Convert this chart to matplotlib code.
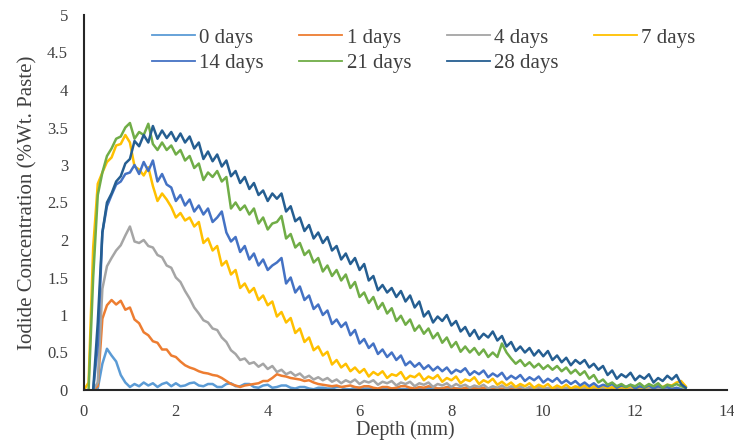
import numpy as np
import matplotlib
matplotlib.use("Agg")
import matplotlib.pyplot as plt

nan = np.nan

depth = [0.0, 0.1, 0.2, 0.3, 0.4, 0.5, 0.6, 0.7, 0.8, 0.9,
         1.0, 1.1, 1.2, 1.3, 1.4, 1.5, 1.6, 1.7, 1.8, 1.9,
         2.0, 2.1, 2.2, 2.3, 2.4, 2.5, 2.6, 2.7, 2.8, 2.9,
         3.0, 3.1, 3.2, 3.3, 3.4, 3.5, 3.6, 3.7, 3.8, 3.9,
         4.0, 4.1, 4.2, 4.3, 4.4, 4.5, 4.6, 4.7, 4.8, 4.9,
         5.0, 5.1, 5.2, 5.3, 5.4, 5.5, 5.6, 5.7, 5.8, 5.9,
         6.0, 6.1, 6.2, 6.3, 6.4, 6.5, 6.6, 6.7, 6.8, 6.9,
         7.0, 7.1, 7.2, 7.3, 7.4, 7.5, 7.6, 7.7, 7.8, 7.9,
         8.0, 8.1, 8.2, 8.3, 8.4, 8.5, 8.6, 8.7, 8.8, 8.9,
         9.0, 9.1, 9.2, 9.3, 9.4, 9.5, 9.6, 9.7, 9.8, 9.9,
         10.0, 10.1, 10.2, 10.3, 10.4, 10.5, 10.6, 10.7, 10.8, 10.9,
         11.0, 11.1, 11.2, 11.3, 11.4, 11.5, 11.6, 11.7, 11.8, 11.9,
         12.0, 12.1, 12.2, 12.3, 12.4, 12.5, 12.6, 12.7, 12.8, 12.9,
         13.0, 13.1]

d0 = [nan, nan, 0.0, 0.02, 0.35, 0.55, 0.46, 0.38, 0.2, 0.1,
      0.04, 0.08, 0.05, 0.1, 0.06, 0.09, 0.04, 0.08, 0.1, 0.05,
      0.09, 0.05, 0.06, 0.09, 0.1, 0.06, 0.05, 0.08, 0.08, 0.04,
      0.04, 0.08, 0.09, 0.05, 0.05, 0.08, 0.08, 0.04, 0.03, 0.06,
      0.07, 0.03, 0.04, 0.06, 0.06, 0.03, 0.02, 0.04, 0.04, 0.02,
      0.01, 0.03, 0.03, 0.02, 0.02, 0.04, 0.04, 0.01, 0.01, 0.03,
      0.03, 0.02, 0.02, 0.01, 0.01, 0.03, 0.03, 0.02, 0.02, 0.01,
      0.01, 0.02, 0.02, 0.01, 0.01, 0.03, 0.03, 0.02, 0.02, 0.01,
      0.01, 0.02, 0.02, 0.01, 0.01, 0.02, 0.02, 0.01, 0.01, 0.02,
      0.02, 0.01, 0.01, 0.02, 0.02, 0.01, 0.01, 0.02, 0.02, 0.01,
      0.01, 0.02, 0.02, 0.01, 0.01, 0.02, 0.02, 0.01, 0.01, 0.02,
      0.02, 0.01, 0.01, 0.02, 0.02, 0.01, 0.01, 0.02, 0.02, 0.01,
      0.01, 0.02, 0.02, 0.01, 0.01, 0.02, 0.02, 0.01, 0.01, 0.02,
      0.01, 0.01]
d1 = [nan, nan, 0.0, 0.05, 0.95, 1.13, 1.2, 1.14, 1.19, 1.07,
      1.1, 0.94, 0.89, 0.77, 0.73, 0.65, 0.63, 0.54, 0.54, 0.46,
      0.44, 0.38, 0.33, 0.3, 0.28, 0.25, 0.23, 0.22, 0.2, 0.19,
      0.16, 0.12, 0.08, 0.06, 0.04, 0.06, 0.07, 0.08, 0.09, 0.12,
      0.12, 0.16, 0.21, 0.19, 0.18, 0.16, 0.15, 0.14, 0.12, 0.13,
      0.1, 0.08, 0.07, 0.06, 0.05, 0.06, 0.04, 0.05, 0.06, 0.04,
      0.03, 0.05, 0.05, 0.03, 0.02, 0.04, 0.04, 0.02, 0.03, 0.05,
      0.05, 0.03, 0.02, 0.04, 0.03, 0.05, 0.04, 0.02, 0.02, 0.04,
      0.03, 0.02, 0.01, 0.03, 0.03, 0.02, 0.02, 0.03, 0.02, 0.01,
      0.01, 0.02, 0.01, 0.02, 0.01, 0.02, 0.01, 0.01, 0.02, 0.01,
      0.01, 0.02, 0.01, 0.01, 0.02, 0.01, 0.01, 0.02, 0.01, 0.01,
      0.02, 0.01, 0.01, 0.02, 0.01, 0.01, 0.02, 0.01, 0.01, 0.02,
      0.01, 0.01, 0.02, 0.01, 0.01, 0.02, 0.01, 0.01, 0.02, 0.01,
      0.01, 0.01]
d4 = [nan, nan, 0.0, 0.1, 1.35, 1.65, 1.76, 1.86, 1.93, 2.06,
      2.18, 1.98, 1.96, 2.0, 1.92, 1.9, 1.8, 1.77, 1.66, 1.63,
      1.5, 1.44, 1.32, 1.22, 1.1, 1.02, 0.93, 0.9, 0.82, 0.8,
      0.7, 0.64, 0.53, 0.48, 0.4, 0.42, 0.35, 0.37, 0.31, 0.35,
      0.28, 0.32, 0.24, 0.27, 0.21, 0.24, 0.19, 0.22, 0.16, 0.19,
      0.14, 0.17, 0.13, 0.16, 0.11, 0.14, 0.09, 0.13, 0.1, 0.14,
      0.08, 0.12, 0.1, 0.13, 0.07, 0.11, 0.09, 0.12, 0.06, 0.1,
      0.08, 0.11, 0.05, 0.09, 0.07, 0.1, 0.04, 0.08, 0.06, 0.09,
      0.04, 0.08, 0.05, 0.07, 0.03, 0.06, 0.04, 0.07, 0.02, 0.05,
      0.03, 0.06, 0.02, 0.05, 0.03, 0.05, 0.01, 0.04, 0.02, 0.04,
      0.01, 0.03, 0.02, 0.04, 0.01, 0.03, 0.02, 0.03, 0.01, 0.02,
      0.01, 0.03, 0.02, 0.03, 0.01, 0.02, 0.01, 0.03, 0.01, 0.02,
      0.01, 0.02, 0.01, 0.03, 0.01, 0.02, 0.01, 0.02, 0.01, 0.02,
      0.01, 0.01]
d7 = [0.0, 0.1, 1.9, 2.75, 2.9, 3.04, 3.1, 3.26, 3.28, 3.4,
      3.3, 2.98, 2.94, 2.86, 2.97, 2.72, 2.52, 2.62, 2.54, 2.44,
      2.3, 2.36, 2.26, 2.3, 2.18, 2.24, 1.96, 2.02, 1.86, 1.92,
      1.66, 1.72, 1.54, 1.6, 1.36, 1.42, 1.3, 1.36, 1.2, 1.26,
      1.13, 1.18, 0.98, 1.04, 0.9, 0.96, 0.76, 0.82, 0.64, 0.7,
      0.53, 0.58, 0.46, 0.51, 0.34, 0.4, 0.3, 0.35, 0.25, 0.3,
      0.23, 0.28, 0.18, 0.24, 0.2, 0.25, 0.16, 0.21, 0.19, 0.24,
      0.14, 0.19, 0.17, 0.22, 0.13, 0.18, 0.15, 0.2, 0.11, 0.16,
      0.13, 0.18, 0.09, 0.14, 0.12, 0.17, 0.08, 0.13, 0.1, 0.15,
      0.07, 0.11, 0.06, 0.1, 0.04, 0.08, 0.05, 0.09, 0.03, 0.07,
      0.04, 0.08, 0.02, 0.06, 0.03, 0.07, 0.02, 0.05, 0.03, 0.06,
      0.01, 0.05, 0.02, 0.06, 0.02, 0.04, 0.01, 0.04, 0.02, 0.05,
      0.01, 0.04, 0.02, 0.05, 0.03, 0.06, 0.04, 0.07, 0.06, 0.1,
      0.12, 0.05]
d14 = [nan, nan, 0.0, 0.6, 2.1, 2.45, 2.6, 2.74, 2.78, 2.88,
       2.9, 3.0, 2.88, 3.04, 2.92, 3.06, 2.78, 2.88, 2.74, 2.7,
       2.52, 2.6, 2.46, 2.54, 2.38, 2.46, 2.34, 2.42, 2.24, 2.3,
       2.38, 2.1, 1.98, 2.04, 1.84, 1.92, 1.74, 1.82, 1.66, 1.74,
       1.6, 1.66, 1.7, 1.76, 1.42, 1.5, 1.3, 1.38, 1.2, 1.26,
       1.08, 1.14, 1.0, 1.06, 0.88, 0.94, 0.84, 0.9, 0.73, 0.8,
       0.62, 0.68, 0.56, 0.62, 0.48, 0.54, 0.44, 0.5, 0.4, 0.46,
       0.33, 0.38, 0.31, 0.36, 0.28, 0.33, 0.26, 0.31, 0.25, 0.3,
       0.22, 0.27, 0.24, 0.29, 0.2, 0.25, 0.21, 0.26, 0.17, 0.22,
       0.18, 0.23, 0.14, 0.19, 0.15, 0.2, 0.12, 0.17, 0.13, 0.18,
       0.1, 0.15, 0.11, 0.16, 0.09, 0.13, 0.08, 0.12, 0.06, 0.1,
       0.05, 0.09, 0.04, 0.07, 0.05, 0.08, 0.03, 0.06, 0.04, 0.07,
       0.02, 0.05, 0.03, 0.06, 0.02, 0.05, 0.03, 0.04, 0.01, 0.03,
       0.01, nan]
d21 = [nan, 0.0, 1.5, 2.6, 2.9, 3.12, 3.22, 3.35, 3.38, 3.5,
       3.56, 3.35, 3.44, 3.4, 3.55, 3.28, 3.2, 3.3, 3.2, 3.26,
       3.14, 3.2, 3.06, 3.12, 2.96, 3.02, 2.8, 2.9, 2.84, 2.92,
       2.78, 2.84, 2.42, 2.5, 2.4, 2.46, 2.34, 2.42, 2.22, 2.3,
       2.14, 2.22, 2.24, 2.32, 2.02, 2.08, 1.9, 1.96, 1.8, 1.86,
       1.7, 1.76, 1.58, 1.66, 1.52, 1.6, 1.46, 1.54, 1.36, 1.44,
       1.24, 1.3, 1.16, 1.24, 1.08, 1.16, 1.02, 1.09, 0.92, 0.99,
       0.87, 0.94, 0.79, 0.86, 0.75, 0.82, 0.69, 0.76, 0.63, 0.7,
       0.57, 0.64, 0.51, 0.58, 0.5, 0.56, 0.47, 0.54, 0.44, 0.5,
       0.44, 0.62, 0.5, 0.42, 0.35, 0.4, 0.32, 0.37, 0.3, 0.35,
       0.28, 0.33, 0.27, 0.32, 0.25, 0.3, 0.22, 0.27, 0.2, 0.25,
       0.15, 0.2, 0.1, 0.14, 0.07, 0.1, 0.05, 0.08, 0.04, 0.07,
       0.05, 0.09, 0.04, 0.08, 0.05, 0.09, 0.03, 0.07, 0.05, 0.08,
       0.05, 0.03]
d28 = [nan, nan, 0.0, 0.9, 2.1, 2.5, 2.62, 2.78, 2.85, 3.02,
       3.08, 3.32, 3.25, 3.4, 3.3, 3.52, 3.35, 3.46, 3.36, 3.44,
       3.32, 3.42, 3.3, 3.38, 3.22, 3.3, 3.08, 3.18, 3.05, 3.14,
       2.98, 3.06, 2.85, 2.92, 2.76, 2.84, 2.68, 2.76, 2.6, 2.66,
       2.52, 2.62, 2.55, 2.62, 2.38, 2.45, 2.25, 2.3, 2.12, 2.2,
       2.02, 2.1, 1.96, 2.04, 1.86, 1.92, 1.74, 1.82, 1.68, 1.76,
       1.6, 1.68, 1.46, 1.52, 1.33, 1.4, 1.3, 1.36, 1.24, 1.32,
       1.18, 1.26, 1.1, 1.18, 0.98, 1.05, 0.9, 0.98, 0.92, 1.0,
       0.86, 0.92, 0.78, 0.84, 0.72, 0.8, 0.68, 0.75, 0.7, 0.78,
       0.66, 0.72, 0.58, 0.64, 0.52, 0.58, 0.5, 0.56, 0.46, 0.53,
       0.45, 0.52, 0.4, 0.46, 0.37, 0.43, 0.33, 0.4, 0.35, 0.4,
       0.3, 0.35, 0.27, 0.32, 0.2, 0.26, 0.15, 0.21, 0.17, 0.23,
       0.13, 0.19, 0.15, 0.21, 0.1, 0.16, 0.12, 0.19, 0.14, 0.2,
       0.08, 0.03]

labels = ["0 days", "1 days", "4 days", "7 days", "14 days", "21 days", "28 days"]
series = [d0, d1, d4, d7, d14, d21, d28]
colors = ["#5B9BD5", "#ED7D31", "#A5A5A5", "#FFC000", "#4472C4", "#70AD47", "#255E91"]

plt.rcParams["font.family"] = ["Liberation Serif", "DejaVu Serif"]
txt = "#404040"

fig = plt.figure(figsize=(7.34, 4.42), dpi=100)
ax = fig.add_axes([84/734, 1 - 390/442, (727 - 84)/734, (390 - 15)/442])

lines = []
for y, lab, c in zip(series, labels, colors):
    ln, = ax.plot(depth, y, color=c, lw=1.8, label=lab)
    lines.append(ln)

ax.set_xlim(0, 14)
ax.set_ylim(0, 5)
ax.set_xticks([0, 2, 4, 6, 8, 10, 12, 14])
ax.set_yticks([0, 0.5, 1, 1.5, 2, 2.5, 3, 3.5, 4, 4.5, 5])
ax.set_yticklabels(["0", "0.5", "1", "1.5", "2", "2.5", "3", "3.5", "4", "4.5", "5"])
ax.tick_params(axis="x", length=0, pad=10, labelsize=12, labelcolor=txt)
ax.tick_params(axis="y", length=0, pad=11.5, labelsize=12, labelcolor=txt)

for s in ["top", "right"]:
    ax.spines[s].set_visible(False)
for s in ["left", "bottom"]:
    ax.spines[s].set_color("#262626")
    ax.spines[s].set_linewidth(1.5)

ax.set_xlabel("Depth (mm)", fontsize=14.5, color=txt, labelpad=0.5)
ax.set_ylabel("Iodide Concentration (%Wt. Paste)", fontsize=15, color=txt, labelpad=7)

# matplotlib fills legend columns first, so reorder to get Excel's row order
order = [0, 4, 1, 5, 2, 6, 3]
leg = fig.legend([lines[i] for i in order], [labels[i] for i in order], ncol=4,
                 loc="upper left", bbox_to_anchor=(152/734, 1 - 28/442), frameon=False,
                 fontsize=15, handlelength=2.07, handletextpad=0.2, columnspacing=1.7,
                 labelspacing=0.3, borderpad=0, borderaxespad=0)
for t in leg.get_texts():
    t.set_color(txt)
for h in leg.legend_handles:
    h.set_linewidth(1.3)

fig.savefig("out.png", dpi=100)
